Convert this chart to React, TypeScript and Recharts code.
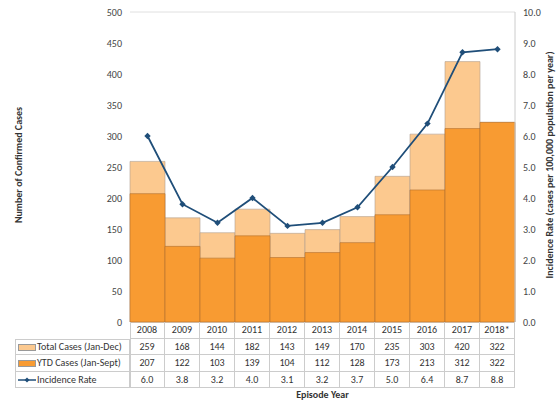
import { Bar, ComposedChart, CartesianGrid, Line, XAxis, YAxis } from "recharts";

const years = ["2008", "2009", "2010", "2011", "2012", "2013", "2014", "2015", "2016", "2017", "2018*"];
const totalCases = [259, 168, 144, 182, 143, 149, 170, 235, 303, 420, 322];
const ytdCases = [207, 122, 103, 139, 104, 112, 128, 173, 213, 312, 322];
const incidence = [6.0, 3.8, 3.2, 4.0, 3.1, 3.2, 3.7, 5.0, 6.4, 8.7, 8.8];
const leftTicks = [0, 50, 100, 150, 200, 250, 300, 350, 400, 450, 500];
const rightTicks = [0, 1, 2, 3, 4, 5, 6, 7, 8, 9, 10];

const TOTAL = "#fcc98f";
const YTD = "#f89b32";
const NAVY = "#1f4e79";
const FONT = "Calibri, Carlito, 'Open Sans', sans-serif";

const data = years.map((y, i) => ({ year: y, total: totalCases[i], ytd: ytdCases[i], rate: incidence[i] }));

const PLOT_L = 130;
const PLOT_R = 515;
const COL = (PLOT_R - PLOT_L) / years.length;
const ROW_TOP = 322;
const ROW_H = 16.5;

function Cell({ x, y, w, children, align = "center" }: any) {
  return (
    <div
      style={{
        position: "absolute", left: x, top: y, width: w, height: ROW_H, lineHeight: `${ROW_H}px`,
        fontSize: 10, textAlign: align, color: "#333", boxSizing: "border-box",
        borderRight: "1px solid #ccc", borderBottom: "1px solid #ccc", whiteSpace: "nowrap",
        paddingLeft: align === "left" ? 3 : 0,
      }}
    >
      {children}
    </div>
  );
}

const rowLabels = [
  { label: "Total Cases (Jan-Dec)", vals: totalCases.map(String), key: "t" },
  { label: "YTD Cases (Jan-Sept)", vals: ytdCases.map(String), key: "y" },
  { label: "Incidence Rate", vals: incidence.map((v) => v.toFixed(1)), key: "r" },
];

function Diamond(props: any) {
  const { cx, cy } = props;
  if (cx == null || cy == null) return null;
  const s = 3.2;
  return <path d={`M${cx},${cy - s}L${cx + s},${cy}L${cx},${cy + s}L${cx - s},${cy}Z`} fill={NAVY} />;
}

function Marker({ k }: { k: string }) {
  if (k === "r")
    return (
      <svg width={18} height={8} style={{ verticalAlign: "middle", marginRight: 1 }}>
        <line x1={0} y1={4} x2={18} y2={4} stroke={NAVY} strokeWidth={1.5} />
        <path d="M9,1.5L11.5,4L9,6.5L6.5,4Z" fill={NAVY} />
      </svg>
    );
  return (
    <span style={{ display: "inline-block", width: 18, height: 7, background: k === "t" ? TOTAL : YTD, border: "1px solid #999", verticalAlign: "middle", marginRight: 1, boxSizing: "border-box" }} />
  );
}

export default function App() {
  return (
    <div style={{ position: "fixed", left: 0, top: 0, width: 560, height: 402, background: "#fff", fontFamily: FONT }}>
      <ComposedChart width={560} height={402} data={data} margin={{ top: 12, right: 0, bottom: 80, left: 70 }} barCategoryGap={0} barGap="-100%">
        <CartesianGrid vertical={false} stroke="#e0e0e0" />
        <XAxis dataKey="year" hide />
        <YAxis yAxisId="l" width={60} domain={[0, 500]} ticks={leftTicks} tick={{ fontSize: 10, fill: "#444", fontFamily: FONT }} axisLine={false} tickLine={false} />
        <YAxis yAxisId="r" orientation="right" width={45} domain={[0, 10]} ticks={rightTicks} tickFormatter={(v) => v.toFixed(1)} tick={{ fontSize: 10, fill: "#444", fontFamily: FONT }} axisLine={{ stroke: "#ccc" }} tickLine={false} />
        <Bar yAxisId="l" dataKey="total" fill={TOTAL} stroke="#b0a090" strokeWidth={0.6} isAnimationActive={false} />
        <Bar yAxisId="l" dataKey="ytd" fill={YTD} stroke="#b07030" strokeWidth={0.6} isAnimationActive={false} />
        <Line yAxisId="r" dataKey="rate" stroke={NAVY} strokeWidth={1.8} dot={<Diamond />} isAnimationActive={false} />
      </ComposedChart>

      <div style={{ position: "absolute", left: PLOT_L, top: ROW_TOP, width: PLOT_R - PLOT_L, height: ROW_H * 4, borderLeft: "1px solid #ccc" }} />
      {years.map((y, i) => (
        <Cell key={y} x={PLOT_L + i * COL} y={ROW_TOP} w={COL}>{y}</Cell>
      ))}
      {rowLabels.map((r, ri) => (
        <div key={r.key}>
          <div style={{ position: "absolute", left: 15, top: ROW_TOP + (ri + 1) * ROW_H, width: PLOT_L - 15, height: ROW_H, borderLeft: "1px solid #ccc", borderTop: ri === 0 ? "1px solid #ccc" : undefined, boxSizing: "border-box" }} />
          <Cell x={15} y={ROW_TOP + (ri + 1) * ROW_H} w={PLOT_L - 15} align="left">
            <Marker k={r.key} />{r.label}
          </Cell>
          {r.vals.map((v, i) => (
            <Cell key={i} x={PLOT_L + i * COL} y={ROW_TOP + (ri + 1) * ROW_H} w={COL}>{v}</Cell>
          ))}
        </div>
      ))}
      <div style={{ position: "absolute", left: PLOT_L, width: PLOT_R - PLOT_L, top: 388, textAlign: "center", fontSize: 10, fontWeight: "bold", color: "#333" }}>Episode Year</div>
      <div style={{ position: "absolute", left: 18, top: 165, transform: "translate(-50%, -50%) rotate(-90deg)", whiteSpace: "nowrap", fontSize: 10, fontWeight: "bold", color: "#333" }}>Number of Confirmed Cases</div>
      <div style={{ position: "absolute", left: 549, top: 165, transform: "translate(-50%, -50%) rotate(-90deg)", whiteSpace: "nowrap", fontSize: 10, fontWeight: "bold", color: "#333" }}>Incidence Rate (cases per 100,000 population per year)</div>
    </div>
  );
}
